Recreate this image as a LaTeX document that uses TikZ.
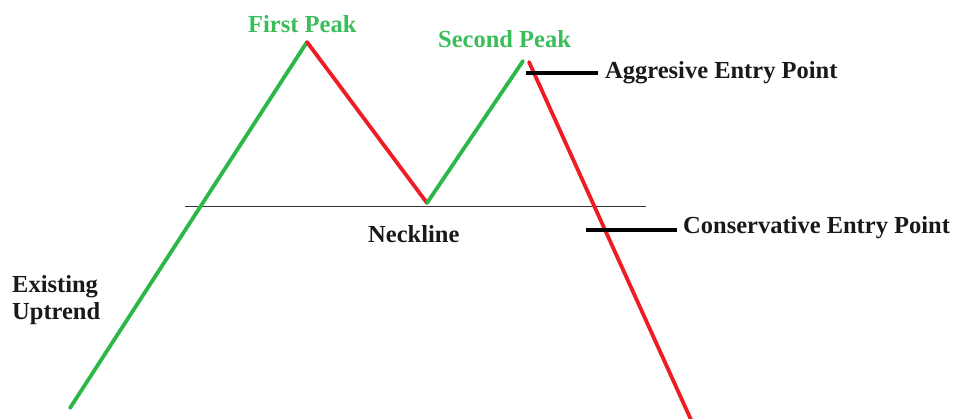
\documentclass[tikz,border=0pt]{standalone}
\usepackage{fontspec}
\setmainfont{Liberation Serif}
\definecolor{upgreen}{RGB}{44,184,72}
\definecolor{txtgreen}{RGB}{58,190,90}
\definecolor{downred}{RGB}{238,28,36}
\tikzset{
  upleg/.style={draw=upgreen, line width=3.8pt, line cap=round},
  downleg/.style={draw=downred, line width=3.8pt, line cap=round},
  marker/.style={draw=black, line width=4pt},
  neck/.style={draw=black!80, line width=0.9pt},
  lbl/.style={font=\fontsize{24.5}{25}\selectfont\bfseries, inner sep=0pt, anchor=base west, text=black!90},
  glbl/.style={lbl, text=txtgreen},
}
\begin{document}
\begin{tikzpicture}[x=1pt,y=-1pt]
\useasboundingbox (0,0) rectangle (958,419);
\coordinate (start) at (70,408);
\coordinate (p1) at (307,42);
\coordinate (tr) at (427,203);
\coordinate (p2) at (523,61);
\coordinate (p2r) at (529,62);
\coordinate (endr) at (692,422);
\coordinate (nl) at (185,206);
\coordinate (nr) at (646,206);
\coordinate (ag) at (526,73);
\coordinate (cs) at (586,230);
% neckline
\draw[neck] (nl) -- (nr);
% legs
\draw[upleg] (start) -- (p1);
\draw[downleg] (p1) -- (tr);
\draw[upleg] (tr) -- (p2);
\draw[downleg] (p2r) -- (endr);
% labels
\node[glbl] (fp) at (248,33) {First Peak};
\node[glbl] (sp) at (438,48) {Second Peak};
\node[lbl] (agt) at (605,79) {Aggresive Entry Point};
\node[lbl] (cst) at (683,234) {Conservative Entry Point};
\node[lbl] (nk) at (368,243) {Neckline};
\node[lbl] (eu1) at (12,293) {Existing};
\node[lbl] (eu2) at (12,320) {Uptrend};
% markers
\draw[marker] (ag) -- ++(72,0);
\draw[marker] (cs) -- ++(91,0);
\end{tikzpicture}
\end{document}
